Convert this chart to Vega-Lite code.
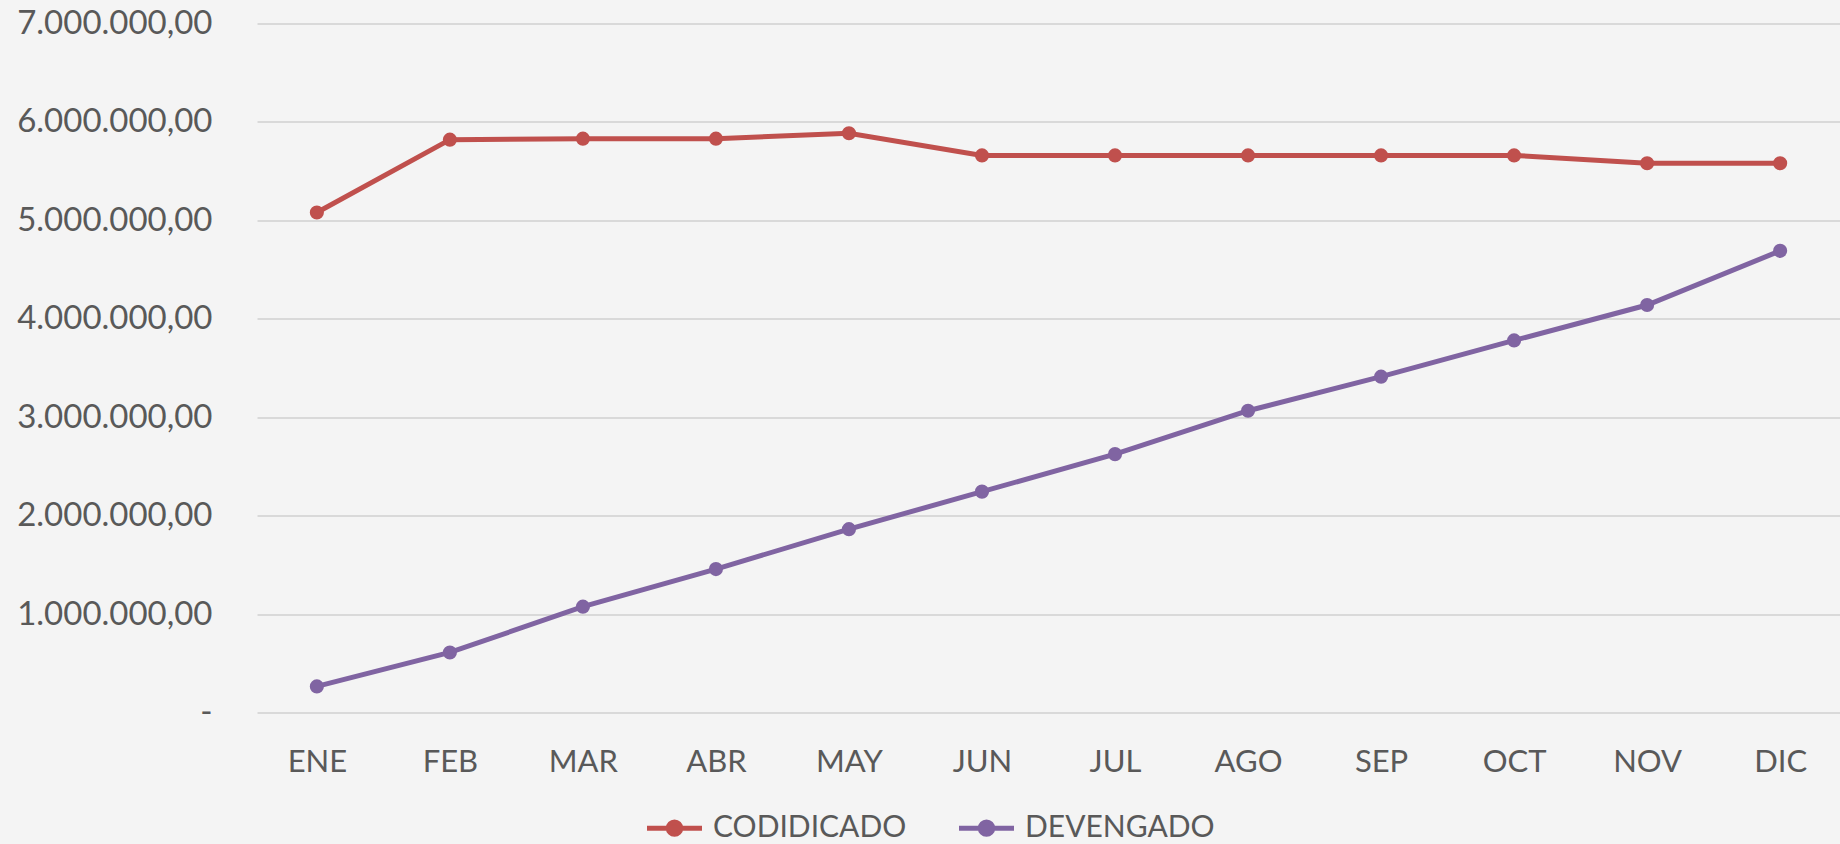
{
  "$schema": "https://vega.github.io/schema/vega-lite/v6.json",
  "width": 1583,
  "height": 689,
  "autosize": {"type": "none"},
  "padding": {"left": 257, "top": 23.5, "right": 0, "bottom": 131.5},
  "background": "#f4f4f4",
  "config": {
    "locale": {"number": {"decimal": ",", "thousands": ".", "grouping": [3], "currency": ["", ""]}},
    "view": {"stroke": null},
    "font": "Lato"
  },
  "data": {
    "values": [
      {"mes": "ENE", "serie": "CODIDICADO", "valor": 5080000},
      {"mes": "FEB", "serie": "CODIDICADO", "valor": 5820000},
      {"mes": "MAR", "serie": "CODIDICADO", "valor": 5830000},
      {"mes": "ABR", "serie": "CODIDICADO", "valor": 5830000},
      {"mes": "MAY", "serie": "CODIDICADO", "valor": 5885000},
      {"mes": "JUN", "serie": "CODIDICADO", "valor": 5660000},
      {"mes": "JUL", "serie": "CODIDICADO", "valor": 5660000},
      {"mes": "AGO", "serie": "CODIDICADO", "valor": 5660000},
      {"mes": "SEP", "serie": "CODIDICADO", "valor": 5660000},
      {"mes": "OCT", "serie": "CODIDICADO", "valor": 5660000},
      {"mes": "NOV", "serie": "CODIDICADO", "valor": 5580000},
      {"mes": "DIC", "serie": "CODIDICADO", "valor": 5580000},
      {"mes": "ENE", "serie": "DEVENGADO", "valor": 265000},
      {"mes": "FEB", "serie": "DEVENGADO", "valor": 610000},
      {"mes": "MAR", "serie": "DEVENGADO", "valor": 1075000},
      {"mes": "ABR", "serie": "DEVENGADO", "valor": 1457000},
      {"mes": "MAY", "serie": "DEVENGADO", "valor": 1863000},
      {"mes": "JUN", "serie": "DEVENGADO", "valor": 2244000},
      {"mes": "JUL", "serie": "DEVENGADO", "valor": 2625000},
      {"mes": "AGO", "serie": "DEVENGADO", "valor": 3066000},
      {"mes": "SEP", "serie": "DEVENGADO", "valor": 3412000},
      {"mes": "OCT", "serie": "DEVENGADO", "valor": 3780000},
      {"mes": "NOV", "serie": "DEVENGADO", "valor": 4140000},
      {"mes": "DIC", "serie": "DEVENGADO", "valor": 4690000}
    ]
  },
  "encoding": {
    "x": {
      "field": "mes",
      "type": "ordinal",
      "sort": ["ENE", "FEB", "MAR", "ABR", "MAY", "JUN", "JUL", "AGO", "SEP", "OCT", "NOV", "DIC"],
      "scale": {"type": "point", "padding": 0.45},
      "axis": {
        "title": null,
        "domain": false,
        "ticks": false,
        "grid": false,
        "labelAngle": 0,
        "labelFontSize": 31,
        "labelColor": "#595959",
        "labelPadding": 35
      }
    },
    "y": {
      "field": "valor",
      "type": "quantitative",
      "scale": {"domain": [0, 7000000], "nice": false},
      "axis": {
        "title": null,
        "domain": false,
        "ticks": false,
        "grid": true,
        "gridColor": "#d9d9d9",
        "gridWidth": 2,
        "values": [0, 1000000, 2000000, 3000000, 4000000, 5000000, 6000000, 7000000],
        "format": ",.2f",
        "labelExpr": "datum.value === 0 ? '-\u00a0\u00a0\u00a0\u00a0' : datum.label",
        "labelFontSize": 33,
        "labelColor": "#595959",
        "labelPadding": 45,
        "labelLimit": 400
      }
    },
    "color": {
      "field": "serie",
      "type": "nominal",
      "scale": {"domain": ["CODIDICADO", "DEVENGADO"], "range": ["#C0504D", "#8064A2"]},
      "legend": {
        "title": null,
        "orient": "none",
        "legendX": 401,
        "legendY": 788,
        "direction": "horizontal",
        "labelFontSize": 30,
        "labelColor": "#595959",
        "labelLimit": 400,
        "symbolType": "M-2,0L2,0M0.45,0A0.45,0.45 0 1,1 -0.45,0A0.45,0.45 0 1,1 0.45,0Z",
        "symbolSize": 756,
        "symbolStrokeWidth": 5,
        "labelOffset": 22,
        "columnPadding": 42,
        "encode": {
          "symbols": {"update": {"fill": {"scale": "color", "field": "value"}, "stroke": {"scale": "color", "field": "value"}, "opacity": {"value": 1}}}
        }
      }
    }
  },
  "layer": [
    {"mark": {"type": "line", "strokeWidth": 5}},
    {"mark": {"type": "point", "filled": true, "size": 200, "opacity": 1}}
  ]
}
